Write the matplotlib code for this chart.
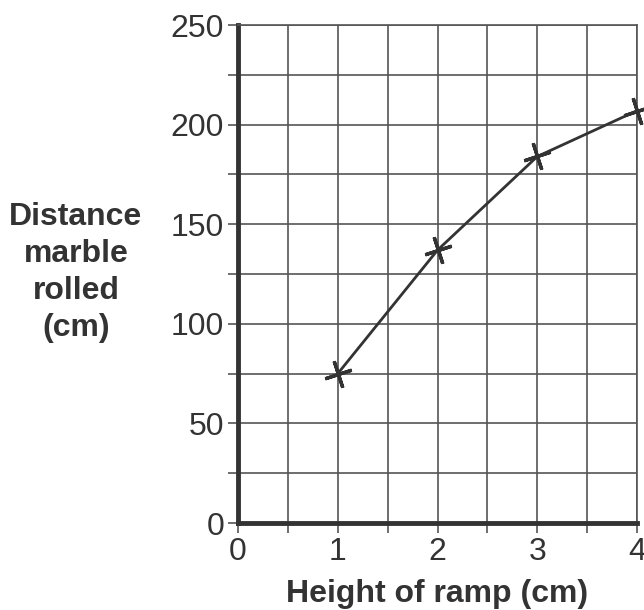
import matplotlib.pyplot as plt

# data
altura = [1, 2, 3, 4]
distancia = [75, 137, 184, 207]
xticks = [0, 1, 2, 3, 4]
yticks = [0, 50, 100, 150, 200, 250]

plt.rcParams['font.family'] = ['Liberation Sans', 'DejaVu Sans']
gris = '#333333'

fig = plt.figure(figsize=(6.44, 6.10), dpi=100)
ax = fig.add_axes([0.3696, 0.1426, 0.6196, 0.8164])

ax.plot(altura, distancia, color=gris, linewidth=2,
        marker=(4, 2, 18), markersize=20, markeredgewidth=2.4,
        clip_on=False, zorder=5)

ax.set_xlim(0, 4)
ax.set_ylim(0, 250)
ax.set_xticks(xticks)
ax.set_yticks(yticks)
ax.set_xticks([0.5, 1.5, 2.5, 3.5], minor=True)
ax.set_yticks([25, 75, 125, 175, 225], minor=True)

ax.grid(True, which='both', color='#555555', linewidth=1.2)
ax.set_axisbelow(True)

for s in ['left', 'bottom']:
    ax.spines[s].set_linewidth(3.5)
    ax.spines[s].set_color(gris)
for s in ['top', 'right']:
    ax.spines[s].set_linewidth(1.2)
    ax.spines[s].set_color('#555555')

ax.tick_params(which='both', length=7, width=1.2, color='#555555',
               labelsize=23, labelcolor=gris, pad=3)

ax.set_xlabel('Height of ramp (cm)', fontsize=23, fontweight='bold',
              color=gris, labelpad=9)
fig.text(0.118, 0.553, 'Distance\nmarble\nrolled\n(cm)', fontsize=23,
         fontweight='bold', color=gris, ha='center', va='center',
         linespacing=1.3)

plt.savefig('out.png')
